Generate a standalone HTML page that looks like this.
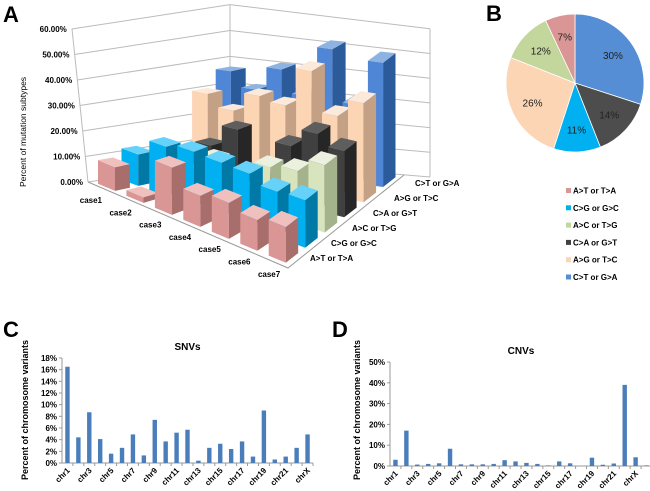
<!DOCTYPE html>
<html><head><meta charset="utf-8"><style>
body{margin:0;background:#fff;}
svg{display:block;font-family:"Liberation Sans",Arial,sans-serif;}
</style></head><body>
<svg id="fig" width="650" height="491" viewBox="0 0 650 491">
<text x="3" y="22" font-size="22" font-weight="bold">A</text>
<text x="486" y="21" font-size="22" font-weight="bold">B</text>
<text x="3" y="337" font-size="22" font-weight="bold">C</text>
<text x="332" y="337" font-size="22" font-weight="bold">D</text>
<g id="g3d"></g>
<g id="gpie"></g>
<g id="gC"></g>
<g id="gD"></g>
</svg>
<script>
const NS="http://www.w3.org/2000/svg";
const cases=["case1","case2","case3","case4","case5","case6","case7"];
const types=["A>T or T>A","C>G or G>C","A>C or T>G","C>A or G>T","A>G or T>C","C>T or G>A"];
const valAT=[9,2,16,10,11,9,10];
const valCG=[12,18,19,18,17,14,14];
const valAC=[10,7,14,6,16,17,21];
const valCA=[8,14,22,6,20,26,22];
const valAG=[30,25,32,30,44,29,35];
const valCT=[37,31,40,31,50,30,47];
const yTicks=["0.00%","10.00%","20.00%","30.00%","40.00%","50.00%","60.00%"];
const pieValues=[30,14,11,26,12,7];
const pieLabels=["30%","14%","11%","26%","12%","7%"];
const snvCats=["chr1","chr2","chr3","chr4","chr5","chr6","chr7","chr8","chr9","chr10","chr11","chr12","chr13","chr14","chr15","chr16","chr17","chr18","chr19","chr20","chr21","chr22","chrX"];
const snvValues=[16.5,4.4,8.7,4.1,1.6,2.6,4.9,1.3,7.4,3.7,5.2,5.7,0.4,2.6,3.3,2.4,3.7,1.1,9.0,0.6,1.1,2.6,4.9];
const snvTicks=["0%","2%","4%","6%","8%","10%","12%","14%","16%","18%"];
const cnvCats=["chr1","chr2","chr3","chr4","chr5","chr6","chr7","chr8","chr9","chr10","chr11","chr12","chr13","chr14","chr15","chr16","chr17","chr18","chr19","chr20","chr21","chr22","chrX","chrY"];
const cnvValues=[3,17,0.7,1,1.3,8.3,0.8,0.8,0.8,1,2.8,2.2,1.5,1,0.3,2.2,1.3,0,4,0.6,1.2,39,4.2,0.3];
const cnvTicks=["0%","10%","20%","30%","40%","50%"];

function mk(tag,attrs,parent){const e=document.createElementNS(NS,tag);for(const k in attrs)e.setAttribute(k,attrs[k]);parent.appendChild(e);return e;}

/* ---------- 3D chart ---------- */
const g3=document.getElementById('g3d');
const allVals=[valAT,valCG,valAC,valCA,valAG,valCT];
const cols=[["#d99694","#f0c0bf","#a76e6c"],["#00b0f0","#66d2fa","#0079a6"],["#d7e4bd","#ebf1de","#a5b38c"],["#404040","#5e5e5e","#262626"],["#fcd5b5","#fde9d9","#c4a184"],["#4f86d6","#8db3e2","#2c5b9c"]];
const L=[88,182],F=[288,268],R=[404,175],B=[230,160];
function floorPt(u,v){return [(1-u)*(1-v)*L[0]+u*(1-v)*F[0]+u*v*R[0]+(1-u)*v*B[0],(1-u)*(1-v)*L[1]+u*(1-v)*F[1]+u*v*R[1]+(1-u)*v*B[1]];}
function scaleAt(u,v){return 2.55+1.2*u*(1-v);}
for(let k=0;k<=6;k++){
  const gl=mk('line',{x1:88-k*2.7,y1:182-k*25.5,x2:230,y2:160-k*25.9,stroke:"#bbb","stroke-width":1},g3);
  
  const gr=mk('line',{x1:230,y1:160-k*25.9,x2:430,y2:177-k*24.7,stroke:"#bbb","stroke-width":1},g3);
  
  const t=mk('text',{x:83-k*2.7,y:185-k*25.5,"font-size":8,"font-weight":"bold","text-anchor":"end"},g3);
  t.textContent=yTicks[k];
}
mk('line',{x1:88,y1:182,x2:72,y2:29,stroke:"#bbb"},g3);
mk('line',{x1:230,y1:160,x2:230,y2:5,stroke:"#bbb"},g3);
mk('line',{x1:430,y1:177,x2:430,y2:29,stroke:"#bbb"},g3);
mk('polyline',{points:`${L[0]},${L[1]} ${F[0]},${F[1]} ${R[0]},${R[1]}`,fill:"none",stroke:"#999"},g3);
const yt=mk('text',{x:0,y:0,"font-size":8.5,"text-anchor":"middle",transform:"translate(26,132) rotate(-90)"},g3);
yt.textContent="Percent of mutation subtypes";
const order=[];
for(let j=0;j<6;j++)for(let i=0;i<7;i++)order.push([i,j,floorPt((i+0.5)/7,(j+0.5)/6)[1]]);
order.sort((a,b)=>a[2]-b[2]);
const hu=0.3/7,hv=0.32/6;
order.forEach(([i,j])=>{
    const v=allVals[j][i];
    const uc=(i+0.5)/7,vc=(j+0.5)/6;
    const u0=uc-hu,u1=uc+hu,v0=vc-hv,v1=vc+hv;
    const h=v*scaleAt(uc,vc);
    const p00=floorPt(u0,v0),p10=floorPt(u1,v0),p11=floorPt(u1,v1),p01=floorPt(u0,v1);
    const up=p=>[p[0],p[1]-h];
    const P=a=>a.map(p=>p[0].toFixed(1)+","+p[1].toFixed(1)).join(" ");
    const g=mk('g',{},g3);
    
    mk('polygon',{points:P([p00,p10,up(p10),up(p00)]),fill:cols[j][0]},g);
    mk('polygon',{points:P([p10,p11,up(p11),up(p10)]),fill:cols[j][2]},g);
    mk('polygon',{points:P([up(p00),up(p10),up(p11),up(p01)]),fill:cols[j][1]},g);
});
cases.forEach((c,i)=>{const t=mk('text',{x:102+i*29.7,y:203+i*12.3,"font-size":8,"font-weight":"bold","text-anchor":"end"},g3);t.textContent=c;
 });
types.forEach((c,j)=>{const t=mk('text',{x:310+j*21,y:261-j*15,"font-size":8,"font-weight":"bold"},g3);t.textContent=c;
 });

/* ---------- pie ---------- */
const gp=document.getElementById('gpie');
const pieCols=["#558ed5","#4d4d4d","#00b0f0","#fcd5b5","#c3d69b","#d99694"];
const cx=575,cy=83,r=69;let acc=0;const tot=pieValues.reduce((a,b)=>a+b,0);
pieValues.forEach((v,k)=>{
  const a0=acc/tot*2*Math.PI;acc+=v;const a1=acc/tot*2*Math.PI;
  const x0=cx+r*Math.sin(a0),y0=cy-r*Math.cos(a0),x1=cx+r*Math.sin(a1),y1=cy-r*Math.cos(a1);
  const s=mk('path',{d:`M${cx},${cy} L${x0},${y0} A${r},${r} 0 ${a1-a0>Math.PI?1:0} 1 ${x1},${y1} Z`,fill:pieCols[k],stroke:"#fff","stroke-width":0.8},gp);
  
  const am=(a0+a1)/2;const t=mk('text',{x:cx+r*0.68*Math.sin(am),y:cy-r*0.68*Math.cos(am)+3.5,"font-size":10,"text-anchor":"middle",fill:"#222"},gp);
  t.textContent=pieLabels[k];
});
const legCols=["#d99694","#00b0f0","#c3d69b","#404040","#fcd5b5","#558ed5"];
types.forEach((c,k)=>{const y=191+k*17.3;
  const sq=mk('rect',{x:566,y:y-3,width:5,height:5,fill:legCols[k]},gp);
  const t=mk('text',{x:573,y:y+2.5,"font-size":8,"font-weight":"bold"},gp);t.textContent=c;});

/* ---------- bar charts ---------- */
function barChart(gid,cats,vals,ticks,maxV,x0,x1,y0,yTop,title,tx,ty){
  const g=document.getElementById(gid);
  const step=(x1-x0)/cats.length;const ys=v=>y0-(v/maxV)*(y0-yTop);
  ticks.forEach((t,k)=>{const v=maxV*k/(ticks.length-1);const y=ys(v);
    mk('line',{x1:x0-3,y1:y,x2:x0,y2:y,stroke:"#999"},g);
    const e=mk('text',{x:x0-5,y:y+3,"font-size":8,"font-weight":"bold","text-anchor":"end"},g);e.textContent=t;
    });
  mk('line',{x1:x0,y1:yTop,x2:x0,y2:y0,stroke:"#999"},g);
  mk('line',{x1:x0,y1:y0,x2:x1,y2:y0,stroke:"#999"},g);
  cats.forEach((c,k)=>{const xc=x0+step*(k+0.5);
    mk('line',{x1:x0+step*(k+1),y1:y0,x2:x0+step*(k+1),y2:y0+3,stroke:"#999"},g);
    const b=mk('rect',{x:xc-2.2,y:ys(vals[k]),width:4.4,height:y0-ys(vals[k]),fill:"#4a7ebb"},g);
    
    if(k%2===0){const t=mk('text',{x:0,y:0,"font-size":8,"font-weight":"bold","text-anchor":"end",transform:`translate(${xc+3},${y0+8}) rotate(-45)`},g);
      t.textContent=c;}
  });
  const tt=mk('text',{x:(x0+x1)/2,y:yTop-8,"font-size":10,"font-weight":"bold","text-anchor":"middle"},g);tt.textContent=title;
  
  const at=mk('text',{x:0,y:0,"font-size":9,"font-weight":"bold","text-anchor":"middle",transform:`translate(${tx},${ty}) rotate(-90)`},g);
  at.textContent="Percent of chromosome variants";
}
barChart('gC',snvCats,snvValues,snvTicks,18,62,313,463,358,"SNVs",28,410);
barChart('gD',cnvCats,cnvValues,cnvTicks,50,390,652,466,362,"CNVs",360,410);
</script>
</body></html>
